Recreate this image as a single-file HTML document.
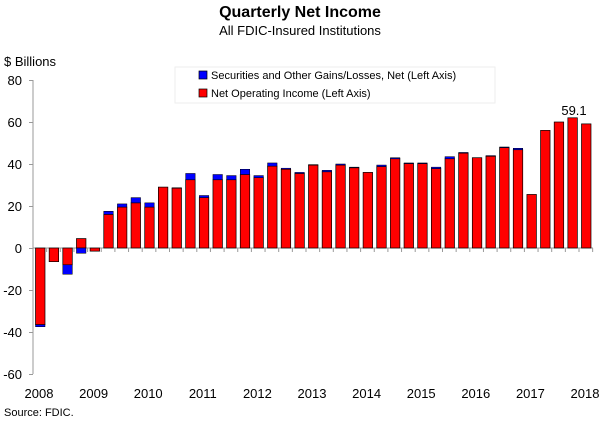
<!DOCTYPE html>
<html><head><meta charset="utf-8"><style>
html,body{margin:0;padding:0;background:#fff;}
svg{display:block;font-family:"Liberation Sans",sans-serif;}
</style></head><body>
<svg width="600" height="422" xmlns="http://www.w3.org/2000/svg">
<text x="300" y="17" text-anchor="middle" font-size="16" font-weight="bold">Quarterly Net Income</text>
<text x="300" y="35" text-anchor="middle" font-size="13">All FDIC-Insured Institutions</text>
<text x="4" y="66" font-size="13">$ Billions</text>
<g font-size="13" text-anchor="end">
<text x="22" y="85">80</text><text x="22" y="127">60</text><text x="22" y="169">40</text><text x="22" y="211">20</text><text x="22" y="253">0</text><text x="22" y="295">-20</text><text x="22" y="337">-40</text><text x="22" y="379">-60</text>
</g>
<g stroke="#999" stroke-width="1" fill="none">
<line x1="33" y1="80" x2="33" y2="374"/>
<path d="M29 80.5H33M29 122.5H33M29 164.5H33M29 206.5H33M29 248.5H33M29 290.5H33M29 332.5H33M29 374.5H33"/>
<line x1="33" y1="248" x2="593" y2="248"/>
<path d="M33 248v4M46.65 248v4M60.3 248v4M73.95 248v4M87.6 248v4M101.25 248v4M114.9 248v4M128.55 248v4M142.2 248v4M155.85 248v4M169.5 248v4M183.15 248v4M196.8 248v4M210.45 248v4M224.1 248v4M237.75 248v4M251.4 248v4M265.05 248v4M278.7 248v4M292.35 248v4M306 248v4M319.65 248v4M333.3 248v4M346.95 248v4M360.6 248v4M374.25 248v4M387.9 248v4M401.55 248v4M415.2 248v4M428.85 248v4M442.5 248v4M456.15 248v4M469.8 248v4M483.45 248v4M497.1 248v4M510.75 248v4M524.4 248v4M538.05 248v4M551.7 248v4M565.35 248v4M579 248v4M592.65 248v4"/>
</g>
<g fill="#ff0000" stroke="#000" stroke-width="0.7">
<rect x="35.5" y="248" width="9.5" height="76.65"/>
<rect x="49.15" y="248" width="9.5" height="13.65"/>
<rect x="62.8" y="248" width="9.5" height="16.8"/>
<rect x="76.45" y="238.55" width="9.5" height="9.45"/>
<rect x="90.1" y="248" width="9.5" height="3.15"/>
<rect x="103.75" y="214.4" width="9.5" height="33.6"/>
<rect x="117.4" y="207.05" width="9.5" height="40.95"/>
<rect x="131.05" y="202.85" width="9.5" height="45.15"/>
<rect x="144.7" y="207.05" width="9.5" height="40.95"/>
<rect x="158.35" y="187.1" width="9.5" height="60.9"/>
<rect x="172" y="188.15" width="9.5" height="59.85"/>
<rect x="185.65" y="179.75" width="9.5" height="68.25"/>
<rect x="199.3" y="197.6" width="9.5" height="50.4"/>
<rect x="212.95" y="179.75" width="9.5" height="68.25"/>
<rect x="226.6" y="179.75" width="9.5" height="68.25"/>
<rect x="240.25" y="174.5" width="9.5" height="73.5"/>
<rect x="253.9" y="177.65" width="9.5" height="70.35"/>
<rect x="267.55" y="166.1" width="9.5" height="81.9"/>
<rect x="281.2" y="169.25" width="9.5" height="78.75"/>
<rect x="294.85" y="173.45" width="9.5" height="74.55"/>
<rect x="308.5" y="165.05" width="9.5" height="82.95"/>
<rect x="322.15" y="171.77" width="9.5" height="76.23"/>
<rect x="335.8" y="165.05" width="9.5" height="82.95"/>
<rect x="349.45" y="167.78" width="9.5" height="80.22"/>
<rect x="363.1" y="172.4" width="9.5" height="75.6"/>
<rect x="376.75" y="166.52" width="9.5" height="81.48"/>
<rect x="390.4" y="158.75" width="9.5" height="89.25"/>
<rect x="404.05" y="163.58" width="9.5" height="84.42"/>
<rect x="417.7" y="163.58" width="9.5" height="84.42"/>
<rect x="431.35" y="168.62" width="9.5" height="79.38"/>
<rect x="445" y="158.75" width="9.5" height="89.25"/>
<rect x="458.65" y="153.08" width="9.5" height="94.92"/>
<rect x="472.3" y="157.7" width="9.5" height="90.3"/>
<rect x="485.95" y="156.23" width="9.5" height="91.77"/>
<rect x="499.6" y="147.62" width="9.5" height="100.38"/>
<rect x="513.25" y="149.72" width="9.5" height="98.28"/>
<rect x="526.9" y="194.45" width="9.5" height="53.55"/>
<rect x="540.55" y="130.4" width="9.5" height="117.6"/>
<rect x="554.2" y="122" width="9.5" height="126"/>
<rect x="567.85" y="117.8" width="9.5" height="130.2"/>
<rect x="581.5" y="123.89" width="9.5" height="124.11"/>
</g>
<g fill="#0000ff" stroke="#000" stroke-width="0.5">
<rect x="35.5" y="324.65" width="9.5" height="2.1"/>
<rect x="62.8" y="264.8" width="9.5" height="9.45"/>
<rect x="76.45" y="248" width="9.5" height="5.25"/>
<rect x="103.75" y="211.25" width="9.5" height="3.15"/>
<rect x="117.4" y="203.9" width="9.5" height="3.15"/>
<rect x="131.05" y="197.6" width="9.5" height="5.25"/>
<rect x="144.7" y="202.85" width="9.5" height="4.2"/>
<rect x="172" y="187.73" width="9.5" height="0.42"/>
<rect x="185.65" y="173.45" width="9.5" height="6.3"/>
<rect x="199.3" y="195.5" width="9.5" height="2.1"/>
<rect x="212.95" y="174.5" width="9.5" height="5.25"/>
<rect x="226.6" y="175.55" width="9.5" height="4.2"/>
<rect x="240.25" y="169.25" width="9.5" height="5.25"/>
<rect x="253.9" y="175.55" width="9.5" height="2.1"/>
<rect x="267.55" y="162.95" width="9.5" height="3.15"/>
<rect x="281.2" y="168.2" width="9.5" height="1.05"/>
<rect x="294.85" y="172.4" width="9.5" height="1.05"/>
<rect x="308.5" y="164.63" width="9.5" height="0.42"/>
<rect x="322.15" y="170.3" width="9.5" height="1.47"/>
<rect x="335.8" y="164" width="9.5" height="1.05"/>
<rect x="349.45" y="167.15" width="9.5" height="0.63"/>
<rect x="376.75" y="165.05" width="9.5" height="1.47"/>
<rect x="390.4" y="157.7" width="9.5" height="1.05"/>
<rect x="404.05" y="162.95" width="9.5" height="0.63"/>
<rect x="417.7" y="162.95" width="9.5" height="0.63"/>
<rect x="431.35" y="167.15" width="9.5" height="1.47"/>
<rect x="445" y="156.65" width="9.5" height="2.1"/>
<rect x="458.65" y="152.45" width="9.5" height="0.63"/>
<rect x="485.95" y="155.6" width="9.5" height="0.63"/>
<rect x="499.6" y="146.99" width="9.5" height="0.63"/>
<rect x="513.25" y="148.25" width="9.5" height="1.47"/>
</g>
<rect x="175" y="67" width="320" height="36" fill="#fff" stroke="#eee"/>
<rect x="199" y="71" width="8" height="8" fill="#0000ff" stroke="#000" stroke-width="0.7"/>
<text x="211" y="79" font-size="11">Securities and Other Gains/Losses, Net  (Left Axis)</text>
<rect x="199" y="89" width="8" height="8" fill="#ff0000" stroke="#000" stroke-width="0.7"/>
<text x="211" y="97" font-size="11">Net Operating Income (Left Axis)</text>
<text x="574" y="115" text-anchor="middle" font-size="13">59.1</text>
<g font-size="13" text-anchor="middle">
<text x="39" y="398">2008</text><text x="93.6" y="398">2009</text><text x="148.2" y="398">2010</text><text x="202.8" y="398">2011</text><text x="257.4" y="398">2012</text><text x="312" y="398">2013</text><text x="366.6" y="398">2014</text><text x="421.2" y="398">2015</text><text x="475.8" y="398">2016</text><text x="530.4" y="398">2017</text><text x="585" y="398">2018</text>
</g>
<text x="4" y="416" font-size="11">Source:  FDIC.</text>
</svg>
</body></html>
